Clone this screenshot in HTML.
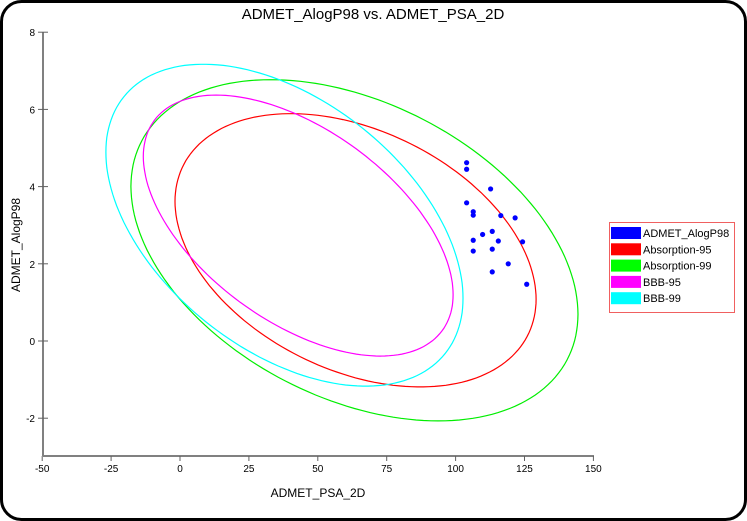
<!DOCTYPE html>
<html><head><meta charset="utf-8"><style>
body{margin:0;background:#fff;}
#wrap{position:relative;width:747px;height:521px;overflow:hidden;}
svg text{font-family:"Liberation Sans",sans-serif;}
</style></head><body>
<div id="wrap">
<svg id="chart" width="747" height="521">
<rect x="1.5" y="1.5" width="744" height="518" rx="20" fill="#fff" stroke="#000" stroke-width="3"/>
<text x="373" y="19" font-size="15" text-anchor="middle">ADMET_AlogP98 vs. ADMET_PSA_2D</text>
<g id="axes"></g>
<g id="ellipses"></g>
<g id="points"></g>
<text x="318" y="497" font-size="12" text-anchor="middle">ADMET_PSA_2D</text>
<text x="0" y="0" font-size="12" text-anchor="middle" transform="translate(20,245) rotate(-90)">ADMET_AlogP98</text>
<g id="legend"></g>
</svg>
</div>
<script>
const xTicks=[-50,-25,0,25,50,75,100,125,150];
const yTicks=[-2,0,2,4,6,8];
const psa=[104.0,104.0,112.7,104.0,106.4,106.4,116.4,121.6,113.3,109.8,115.5,124.3,106.4,113.3,106.4,119.1,113.3,125.8];
const alogp=[4.62,4.45,3.94,3.58,3.35,3.26,3.25,3.19,2.84,2.76,2.59,2.57,2.61,2.38,2.33,2.0,1.79,1.47];
const ellNames=["Absorption-95","Absorption-99","BBB-95","BBB-99"];
const ellColors=["#ff0000","#00ee00","#ff00ff","#00ffff"];
const ellCx=[63.7,63.3,42.9,37.9];
const ellCy=[2.35,2.35,2.99,3.0];
const ellA=[65.5,81.1,56.2,64.8];
const ellB=[3.54,4.42,3.38,4.17];
const ellPhi=[111,112,122,117];
const legendNames=["ADMET_AlogP98","Absorption-95","Absorption-99","BBB-95","BBB-99"];
const legendColors=["#0000ff","#ff0000","#00ff00","#ff00ff","#00ffff"];

const NS="http://www.w3.org/2000/svg";
const X=v=>180+(v)*2.756;
const Y=v=>341-v*38.6;
function mk(tag,attrs,parent){const e=document.createElementNS(NS,tag);for(const k in attrs)e.setAttribute(k,attrs[k]);parent.appendChild(e);return e;}
const axes=document.getElementById('axes');
let l=mk('line',{x1:43,y1:456,x2:594,y2:456,stroke:'#808080','stroke-width':2},axes);


l=mk('line',{x1:43,y1:32,x2:43,y2:456,stroke:'#808080','stroke-width':2},axes);


xTicks.forEach(v=>{
  mk('line',{x1:X(v),y1:456,x2:X(v),y2:461,stroke:'#606060','stroke-width':1},axes);
  const t=mk('text',{x:X(v),y:472,'font-size':10,'text-anchor':'middle'},axes);
  t.textContent=v;
  
  
});
yTicks.forEach(v=>{
  mk('line',{x1:38,y1:Y(v),x2:48,y2:Y(v),stroke:'#606060','stroke-width':1},axes);
  const t=mk('text',{x:35,y:Y(v)+4,'font-size':10,'text-anchor':'end'},axes);
  t.textContent=v;
  
  
});
const eg=document.getElementById('ellipses');
ellNames.forEach((n,i)=>{
  let d='';const ph=ellPhi[i]*Math.PI/180;
  for(let k=0;k<=180;k++){const t=k/180*2*Math.PI;
    const px=X(ellCx[i]+ellA[i]*Math.cos(t)),py=Y(ellCy[i]+ellB[i]*Math.cos(t+ph));
    d+=(k?'L':'M')+px.toFixed(1)+' '+py.toFixed(1);}
  const p=mk('path',{d:d+'Z',fill:'none',stroke:ellColors[i],'stroke-width':1.2},eg);
  
  
});
const pg=document.getElementById('points');
psa.forEach((v,i)=>{
  const c=mk('circle',{cx:X(v),cy:Y(alogp[i]),r:2.6,fill:'#0000ff'},pg);
  
  
});
const lg=document.getElementById('legend');
mk('rect',{x:609.5,y:222.5,width:125,height:90,fill:'#fff',stroke:'#f06060','stroke-width':1},lg);
legendNames.forEach((n,i)=>{
  const y=227+i*16.3;
  const r=mk('rect',{x:611,y:y,width:30,height:12,fill:legendColors[i]},lg);
  
  
  const t=mk('text',{x:643,y:y+10,'font-size':11},lg);
  t.textContent=n;
  
  
});
</script>
</body></html>
